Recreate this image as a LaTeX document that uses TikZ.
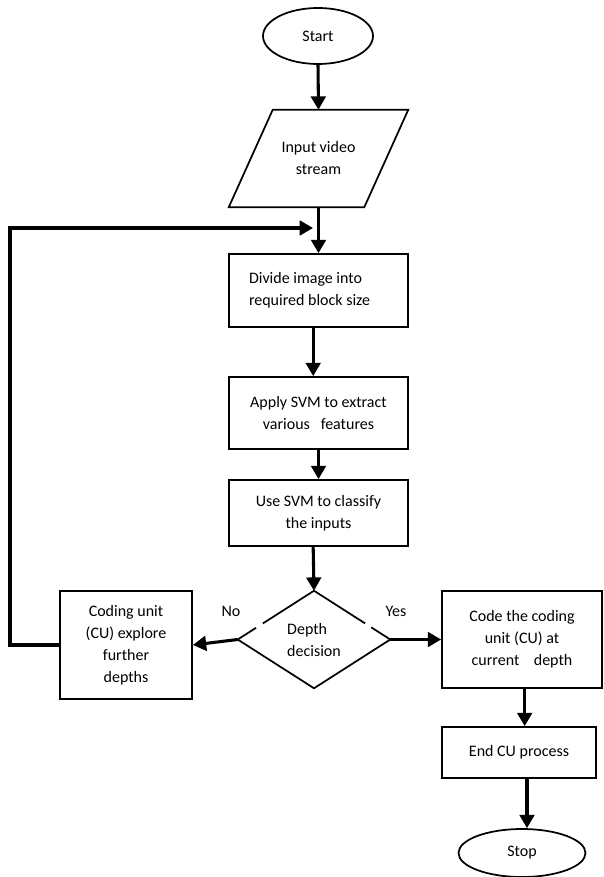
\documentclass[tikz,border=0pt]{standalone}
\usepackage{fontspec}
\setmainfont{Carlito}
\usetikzlibrary{shapes.geometric,arrows.meta,calc}
\begin{document}
\begin{tikzpicture}[x=0.75pt,y=-0.75pt,
  every node/.style={font=\fontsize{12}{16.5}\selectfont, inner sep=0pt},
  shapeline/.style={line width=1.3pt},
  procbox/.style={rectangle, draw, shapeline, align=center},
  term/.style={ellipse, draw, shapeline},
  flow/.style={line width=2.3pt, -{Triangle[width=11pt,length=10pt]}},
  lbl/.style={font=\fontsize{12}{14}\selectfont}]
\useasboundingbox (0,0) rectangle (603,877);

% terminals
\node[term, minimum width=110*0.75pt, minimum height=56*0.75pt] (start) at (318,36) {Start};
\node[term, minimum width=127*0.75pt, minimum height=48*0.75pt] (stop) at (522,853) {Stop};

% input parallelogram
\node[draw=none, minimum width=179*0.75pt, minimum height=97*0.75pt, align=center] (in) at (318.5,158.5) {Input video\\stream};
\draw[shapeline] ($(in.north west)+(44,0)$) -- (in.north east) -- ($(in.south east)+(-44,0)$) -- (in.south west) -- cycle;

% process boxes
\node[procbox, align=flush left, text width=139*0.75pt, inner xsep=20*0.75pt, minimum height=73*0.75pt] (b1) at (318.5,290.5) {Divide image into\\required block size};
\node[procbox, minimum width=179*0.75pt, minimum height=72*0.75pt] (b2) at (318.5,413) {Apply SVM to extract\\various~~~features};
\node[procbox, minimum width=179*0.75pt, minimum height=66*0.75pt] (b3) at (318.5,513) {Use SVM to classify\\the inputs};

% decision
\node[diamond, draw=none, minimum width=152*0.75pt, minimum height=97*0.75pt, align=left] (d) at (314,639.5) {Depth\\decision};
\draw[shapeline] (d.west) -- ($(d.west)!0.24!(d.north)$);
\draw[shapeline] ($(d.west)!0.33!(d.north)$) -- (d.north) -- ($(d.north)!0.67!(d.east)$);
\draw[shapeline] ($(d.north)!0.75!(d.east)$) -- (d.east) -- (d.south) -- (d.west);

\node[procbox, minimum width=132*0.75pt, minimum height=108*0.75pt] (cu) at (126,645) {Coding unit\\(CU) explore\\further\\depths};
\node[procbox, minimum width=160*0.75pt, minimum height=97*0.75pt] (code) at (522,639.5) {Code the coding\\unit (CU) at\\current~~~~depth};
\node[procbox, minimum width=154*0.75pt, minimum height=51*0.75pt] (endcu) at (519,752.5) {End CU process};

\node[lbl] (no) at (231,611) {No};
\node[lbl] (yes) at (396,611) {Yes};

% connectors
\draw[flow] (start.south) -- (in.north);
\draw[flow] (in.south) -- (b1.north);
\draw[flow] ([xshift=-4]b1.south) -- ([xshift=-4]b1.south |- b2.north);
\draw[flow] (b2.south) -- (b3.north);
\draw[flow] ([xshift=-4]b3.south) -- (d.north);
\draw[flow] (d.west) -- (cu.east);
\draw[flow] (d.east) -- (code.west);
\draw[flow] ([xshift=2]code.south) -- ([xshift=2]code.south |- endcu.north);
\draw[flow] ([xshift=6]endcu.south) -- ([xshift=6]endcu.south |- stop.north);

\coordinate (fbcorner) at (10,228);
\coordinate (fbend) at (313,228);
\draw[flow] (cu.west) -| (fbcorner) -- (fbend);
\end{tikzpicture}
\end{document}
